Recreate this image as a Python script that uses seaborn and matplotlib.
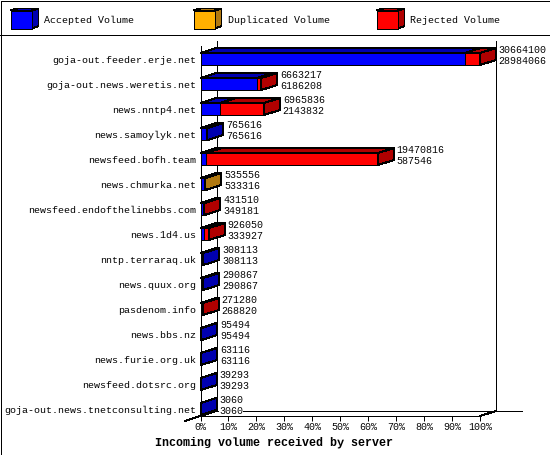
import matplotlib
matplotlib.use('Agg')
import matplotlib.pyplot as plt
import seaborn as sns
from matplotlib.patches import Rectangle, Polygon

servers = ['goja-out.feeder.erje.net', 'goja-out.news.weretis.net', 'news.nntp4.net',
           'news.samoylyk.net', 'newsfeed.bofh.team', 'news.chmurka.net',
           'newsfeed.endofthelinebbs.com', 'news.1d4.us', 'nntp.terraraq.uk',
           'news.quux.org', 'pasdenom.info', 'news.bbs.nz', 'news.furie.org.uk',
           'newsfeed.dotsrc.org', 'goja-out.news.tnetconsulting.net']
offered = [30664100, 6663217, 6965836, 765616, 19470816, 535556, 431510, 926050,
           308113, 290867, 271280, 95494, 63116, 39293, 3060]
accepted = [28984066, 6186208, 2143832, 765616, 587546, 533316, 349181, 333927,
            308113, 290867, 268820, 95494, 63116, 39293, 3060]
duplicated = [0, 0, 0, 0, 0, 2240, 0, 0, 0, 0, 0, 0, 0, 0, 0]
legend_names = ['Accepted Volume', 'Duplicated Volume', 'Rejected Volume']
x_ticks = [0, 10, 20, 30, 40, 50, 60, 70, 80, 90, 100]

BLUE, GOLD, RED = '#0000ff', '#ffb000', '#ff0000'
DARK = {BLUE: '#0000b0', GOLD: '#b07810', RED: '#b00000'}
MONO = 'Liberation Mono'

sns.set_theme(style='white')
plt.rcParams['font.family'] = MONO
plt.rcParams['text.color'] = 'black'
plt.rcParams['text.hinting'] = 'native'
plt.rcParams['text.hinting_factor'] = 1
plt.rcParams['font.size'] = 7.2
W, H = 550, 455

fig = plt.figure(figsize=(W / 100, H / 100), dpi=100)
ax = fig.add_axes([200.5 / W, 1 - 416 / H, 279.5 / W, 370 / H])

top = max(offered)
pct_acc = [v / top * 100 for v in accepted]
pct_dup = [(a + d) / top * 100 for a, d in zip(accepted, duplicated)]
pct_all = [v / top * 100 for v in offered]

bar_kw = dict(y=servers, orient='h', width=0.48, saturation=1, edgecolor='black',
              linewidth=0.72, antialiased=False, ax=ax, zorder=3)
sns.barplot(x=pct_all, color=RED, **bar_kw)
sns.barplot(x=pct_dup, color=GOLD, **bar_kw)
sns.barplot(x=pct_acc, color=BLUE, **bar_kw)

ax.set_xlim(0, 100)
ax.set_ylim(14.28, -0.52)
# depth of the fake 3d boxes, 16px right and 5px up
dx = 16 / 2.795
dy = 5 / 25
half = 0.24

for i in range(len(servers)):
    parts = [(0, pct_acc[i], BLUE), (pct_acc[i], pct_dup[i], GOLD), (pct_dup[i], pct_all[i], RED)]
    parts = [p for p in parts if p[1] > p[0]]
    for a, b, c in parts:
        ax.add_patch(Polygon([(a, i - half), (b, i - half), (b + dx, i - half - dy), (a + dx, i - half - dy)],
                             fc=DARK[c], ec='black', lw=0.72, antialiased=False, clip_on=False, zorder=4))
    end = pct_all[i]
    ax.add_patch(Polygon([(end, i - half), (end + dx, i - half - dy), (end + dx, i + half - dy), (end, i + half)],
                         fc=DARK[parts[-1][2]], ec='black', lw=0.72, antialiased=False, clip_on=False, zorder=4))
    lx = end + dx + 1.0
    for txt, off in ((offered[i], -0.36), (accepted[i], 0.08)):
        ax.text(lx, i + off, str(txt), ha='left', va='center', fontsize=7.2, zorder=5, clip_on=False,
                bbox=dict(fc='white', ec='none', pad=0))

# walls and floor of the box
line_kw = dict(color='black', lw=0.72, antialiased=False, clip_on=False, zorder=1)
y0, y1 = ax.get_ylim()
ax.plot([dx, dx], [y0 - dy, y1 - dy], **line_kw)
ax.plot([100 + dx, 100 + dx], [y0 - dy, y1 - dy], **line_kw)
ax.plot([dx, 115], [y0 - dy, y0 - dy], **line_kw)
ax.plot([-dx, dx], [y0 + dy, y0 - dy], **line_kw)
ax.plot([100, 100 + dx], [y0, y0 - dy], **line_kw)

sns.despine(ax=ax, top=True, right=True)
for s in ('left', 'bottom'):
    ax.spines[s].set_linewidth(0.72)
    ax.spines[s].set_color('black')
    ax.spines[s].set_antialiased(False)
ax.patch.set_alpha(0)
ax.set_xticks(x_ticks)
ax.set_xticklabels([f'{t}%' for t in x_ticks], fontsize=7.2, color='black')
ax.tick_params(axis='x', bottom=True, length=3.6, width=0.72, color='black', pad=1.5)
ax.tick_params(axis='y', left=False, length=0, pad=3, labelsize=7.2, labelcolor='black')
ax.set_xlabel('')
ax.set_ylabel('')

# frame and legend are laid out in pixels on a full figure axes
frame = fig.add_axes([0, 0, 1, 1], zorder=-1)
frame.set_xlim(0, W)
frame.set_ylim(H, 0)
frame.axis('off')
frame.add_patch(Rectangle((0.5, 0.5), W - 1, H - 1, fc='white', ec='black', lw=0.72, antialiased=False))
frame.plot([0, W], [35, 35], color='black', lw=0.72, antialiased=False)
for name, c, x in zip(legend_names, (BLUE, GOLD, RED), (10.5, 193.5, 376.5)):
    frame.add_patch(Polygon([(x, 10.5), (x + 21, 10.5), (x + 28, 8.5), (x + 7, 8.5)],
                            fc=DARK[c], ec='black', lw=0.72, antialiased=False))
    frame.add_patch(Polygon([(x + 21, 10.5), (x + 28, 8.5), (x + 28, 26), (x + 21, 28.5)],
                            fc=DARK[c], ec='black', lw=0.72, antialiased=False))
    frame.add_patch(Rectangle((x, 10.5), 21, 18, fc=c, ec='black', lw=0.72, antialiased=False))
    frame.text(x + 34, 20, name, ha='left', va='center', fontsize=7.2)
frame.text(274, 442, 'Incoming volume received by server', ha='center', va='center',
           fontsize=8.4, fontweight='bold')

fig.savefig('out.png', dpi=100)
